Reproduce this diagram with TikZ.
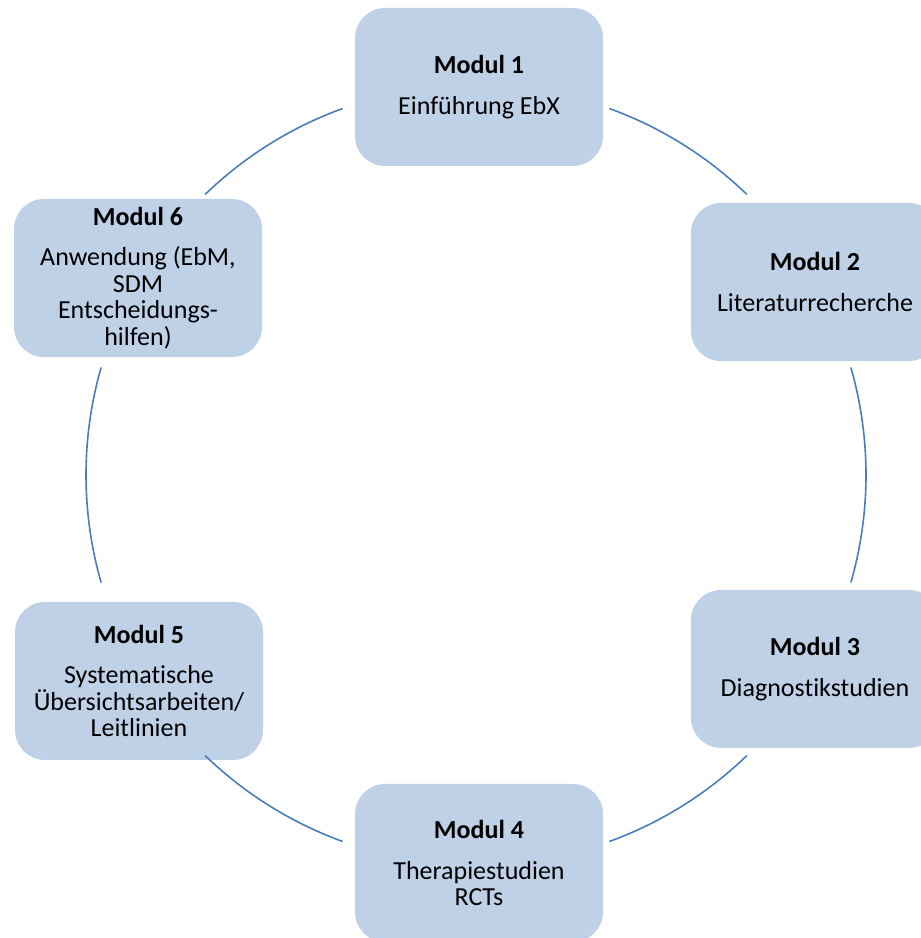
\documentclass[tikz,border=0pt]{standalone}
\usepackage{fontspec}
\setmainfont{Carlito}[Ligatures=NoCommon]
\definecolor{boxfill}{HTML}{BFD1E7}
\definecolor{arcblue}{HTML}{4A7EBB}
\tikzset{
  modbox/.style={rounded corners=30pt, fill=boxfill, minimum width=248pt, minimum height=158pt,
    align=center, inner sep=0pt, font=\fontsize{26}{26.5}\selectfont},
  conn/.style={draw=arcblue, line width=1.6pt}
}
\begin{document}
\begin{tikzpicture}[x=1pt,y=1pt]
\useasboundingbox (0,0) rectangle (921,938);
\coordinate (c) at (476,463);
\node[modbox] (m1) at (479,851) {\textbf{Modul 1}\\[14pt]Einführung EbX};
\node[modbox] (m2) at (815,656) {\textbf{Modul 2}\\[14pt]Literaturrecherche};
\node[modbox] (m3) at (815,269) {\textbf{Modul 3}\\[14pt]Diagnostikstudien};
\node[modbox] (m4) at (479,75) {\textbf{Modul 4}\\[14pt]Therapiestudien\\RCTs};
\node[modbox] (m5) at (139,257) {\textbf{Modul 5}\\[14pt]Systematische\\Übersichtsarbeiten/\\Leitlinien};
\node[modbox] (m6) at (138,660) {\textbf{Modul 6}\\[14pt]Anwendung (EbM,\\SDM\\Entscheidungs-\\hilfen)};
\draw[conn] ([shift={(70:390)}]c) arc[start angle=70, end angle=46, radius=390];
\draw[conn] ([shift={(16:390)}]c) arc[start angle=16, end angle=-16, radius=390];
\draw[conn] ([shift={(-46:390)}]c) arc[start angle=-46, end angle=-70, radius=390];
\draw[conn] ([shift={(-110:390)}]c) arc[start angle=-110, end angle=-134, radius=390];
\draw[conn] ([shift={(-164:390)}]c) arc[start angle=-164, end angle=-196, radius=390];
\draw[conn] ([shift={(134:390)}]c) arc[start angle=134, end angle=110, radius=390];
\end{tikzpicture}
\end{document}
